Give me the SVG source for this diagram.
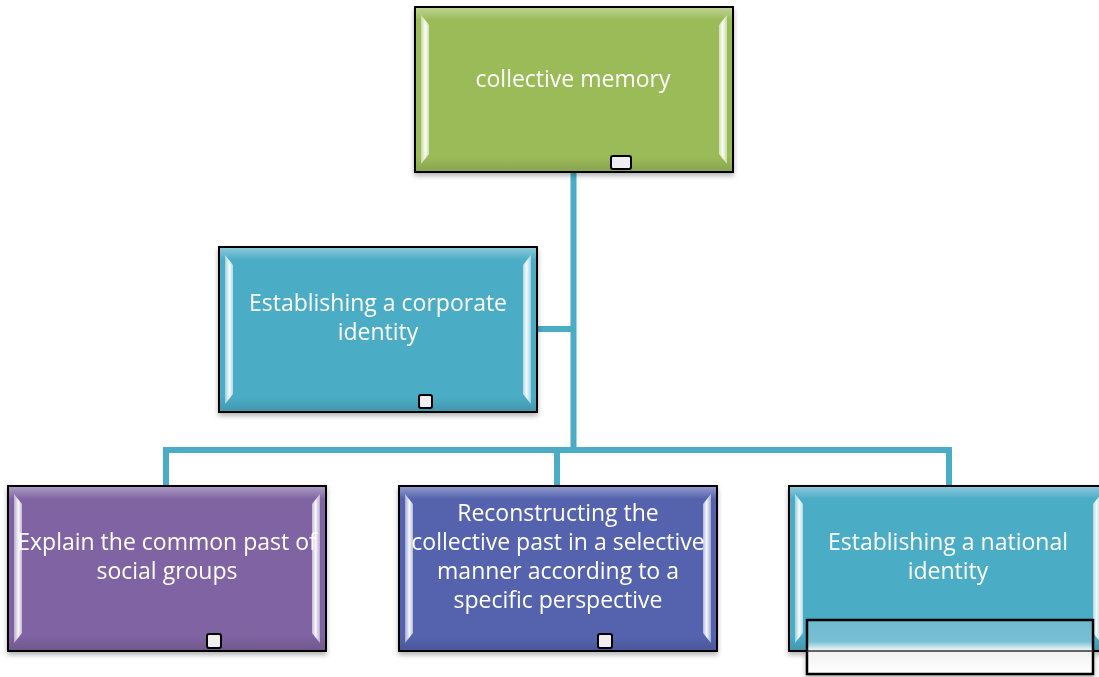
<svg xmlns="http://www.w3.org/2000/svg" width="1099" height="677" viewBox="0 0 1099 677">
  <style>
    .box { stroke: #000; stroke-width: 2; }
    .label { font-family: "Open Sans", "Liberation Sans", sans-serif; font-size: 23px; fill: #ffffff; text-anchor: middle; }
    .wire { fill: none; stroke: #4BACC6; stroke-width: 6; stroke-linejoin: miter; }
    .handle { fill: #efefef; stroke: #000; stroke-width: 2; }
  </style>
  <defs>
    <filter id="shadow" x="-5%" y="-5%" width="110%" height="115%">
      <feGaussianBlur in="SourceAlpha" stdDeviation="2.5"/>
      <feOffset dx="0" dy="3" result="b"/>
      <feComponentTransfer><feFuncA type="linear" slope="0.3"/></feComponentTransfer>
      <feMerge><feMergeNode/><feMergeNode in="SourceGraphic"/></feMerge>
    </filter>
    <linearGradient id="stripL" x1="0" y1="0" x2="1" y2="0">
      <stop offset="0" stop-color="#fff" stop-opacity="0.45"/>
      <stop offset="0.55" stop-color="#fff" stop-opacity="0.95"/>
      <stop offset="1" stop-color="#fff" stop-opacity="0.55"/>
    </linearGradient>
    <linearGradient id="stripR" x1="1" y1="0" x2="0" y2="0">
      <stop offset="0" stop-color="#fff" stop-opacity="0.45"/>
      <stop offset="0.55" stop-color="#fff" stop-opacity="0.95"/>
      <stop offset="1" stop-color="#fff" stop-opacity="0.55"/>
    </linearGradient>
    <linearGradient id="topBand" x1="0" y1="0" x2="0" y2="1">
      <stop offset="0" stop-color="#fff" stop-opacity="0.35"/>
      <stop offset="1" stop-color="#fff" stop-opacity="0"/>
    </linearGradient>
    <linearGradient id="botBand" x1="0" y1="0" x2="0" y2="1">
      <stop offset="0" stop-color="#000" stop-opacity="0"/>
      <stop offset="1" stop-color="#000" stop-opacity="0.12"/>
    </linearGradient>
    <linearGradient id="panelFade" x1="0" y1="0" x2="0" y2="1">
      <stop offset="0" stop-color="#6DBACF"/>
      <stop offset="0.4" stop-color="#78C0D4"/>
      <stop offset="0.55" stop-color="#E8F3F6"/>
      <stop offset="0.6" stop-color="#f2f2f2"/>
      <stop offset="1" stop-color="#ffffff"/>
    </linearGradient>
    <!-- bevel highlights for a 318 x 165 box -->
    <g id="bevel">
      <rect x="1" y="1" width="316" height="12" fill="url(#topBand)"/>
      <rect x="1" y="150" width="316" height="14" fill="url(#botBand)"/>
      <polygon points="6,8 14,18 14,147 6,157" fill="url(#stripL)"/>
      <polygon points="312,8 304,18 304,147 312,157" fill="url(#stripR)"/>
    </g>
  </defs>

  <!-- connectors -->
  <g id="connectors">
    <path class="wire" d="M573.5,172 V450"/>
    <path class="wire" d="M537,329 H573.5"/>
    <path class="wire" d="M166,486 V450 H949 V486"/>
    <path class="wire" d="M557,450 V486"/>
  </g>

  <!-- root -->
  <g id="node-collective-memory" filter="url(#shadow)">
    <rect class="box" x="415" y="7" width="318" height="165" fill="#9BBB59"/>
    <use href="#bevel" x="415" y="7"/>
    <text class="label" x="573" y="87">collective memory</text>
    <rect class="handle" x="611" y="156" width="20" height="13" rx="2"/>
  </g>

  <g id="node-corporate-identity" filter="url(#shadow)">
    <rect class="box" x="219" y="247" width="318" height="165" fill="#4BACC6"/>
    <use href="#bevel" x="219" y="247"/>
    <text class="label" x="378" y="311">Establishing a corporate</text>
    <text class="label" x="378" y="340">identity</text>
    <rect class="handle" x="419" y="395" width="13" height="13" rx="2"/>
  </g>

  <g id="node-common-past" filter="url(#shadow)">
    <rect class="box" x="8" y="486" width="318" height="165" fill="#8064A2"/>
    <use href="#bevel" x="8" y="486"/>
    <text class="label" x="167" y="550">Explain the common past of</text>
    <text class="label" x="167" y="579">social groups</text>
    <rect class="handle" x="207" y="634" width="14" height="14" rx="2"/>
  </g>

  <g id="node-reconstructing" filter="url(#shadow)">
    <rect class="box" x="399" y="486" width="318" height="165" fill="#5563AF"/>
    <use href="#bevel" x="399" y="486"/>
    <text class="label" x="558" y="521">Reconstructing the</text>
    <text class="label" x="558" y="550">collective past in a selective</text>
    <text class="label" x="558" y="579">manner according to a</text>
    <text class="label" x="558" y="608">specific perspective</text>
    <rect class="handle" x="598" y="634" width="14" height="14" rx="2"/>
  </g>

  <g id="node-national-identity" filter="url(#shadow)">
    <rect class="box" x="789" y="486" width="318" height="165" fill="#4BACC6"/>
    <use href="#bevel" x="789" y="486"/>
    <text class="label" x="948" y="550">Establishing a national</text>
    <text class="label" x="948" y="579">identity</text>
    <rect x="807" y="620" width="286" height="54" fill="url(#panelFade)" stroke="#000" stroke-width="2.5"/>
    <line x1="807" y1="651" x2="1093" y2="651" stroke="#333" stroke-width="1.5"/>
  </g>
</svg>
